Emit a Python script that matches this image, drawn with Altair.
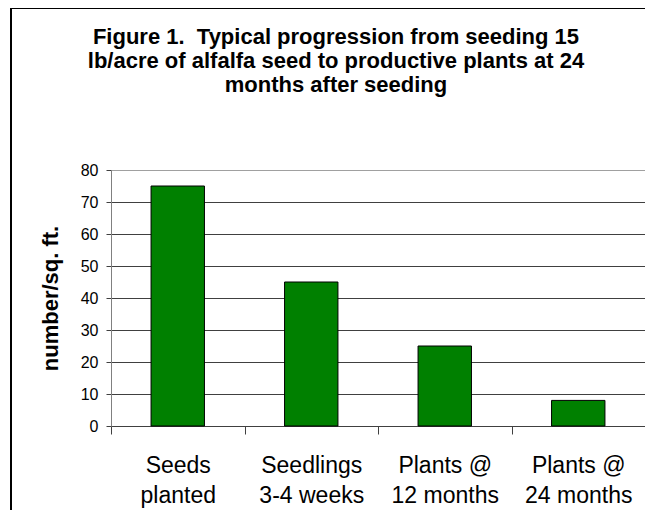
import altair as alt
import pandas as pd

categories = ["Seeds\nplanted", "Seedlings\n3-4 weeks", "Plants @\n12 months", "Plants @\n24 months"]
values = [75, 45, 25, 8]
y_ticks = [0, 10, 20, 30, 40, 50, 60, 70, 80]
title_lines = [
    "Figure 1.\u00a0 Typical progression from seeding 15",
    "lb/acre of alfalfa seed to productive plants at 24",
    "months after seeding",
]

FONT = "Liberation Sans"

df = pd.DataFrame({"stage": categories, "count": values})

bars = alt.Chart(df).mark_bar(
    color="#008000", stroke="#000000", strokeWidth=1, width=alt.RelativeBandSize(0.4)
).encode(
    x=alt.X(
        "stage:N",
        sort=categories,
        scale=alt.Scale(paddingInner=0, paddingOuter=0),
        axis=alt.Axis(
            title=None,
            labelAngle=0,
            labelExpr="split(datum.label, '\\n')",
            labelFont=FONT,
            labelFontSize=23,
            labelLineHeight=30,
            labelPadding=20,
            labelColor="#000000",
            tickBand="extent",
            tickSize=8,
            tickColor="#404040",
            domainColor="#404040",
            grid=False,
        ),
    ),
    y=alt.Y(
        "count:Q",
        scale=alt.Scale(domain=[0, 80], nice=False),
        axis=alt.Axis(
            values=y_ticks,
            title="number/sq. ft.",
            titleFont=FONT,
            titleFontSize=22,
            titleFontWeight="bold",
            titleColor="#000000",
            titleAngle=270,
            titleAlign="center",
            titleBaseline="middle",
            titleX=-61,
            titleY=128,
            labelFont=FONT,
            labelFontSize=16,
            labelColor="#000000",
            labelPadding=8,
            tickSize=5,
            tickColor="#404040",
            domainColor="#808080",
            grid=True,
            gridColor=alt.condition("datum.value === 80", alt.value("#a0a0a0"), alt.value("#404040")),
            gridWidth=1,
        ),
    ),
)

frame = alt.Chart(alt.Data(values=[{"k": 1}])).mark_rect(
    fillOpacity=0, stroke="#000000", strokeWidth=2
).encode(
    x=alt.value(-100), x2=alt.value(620), y=alt.value(-162), y2=alt.value(420)
)

chart = alt.layer(frame, bars).properties(
    width=534,
    height=256,
    padding={"left": 103, "top": 162, "right": 0, "bottom": 84},
    autosize=alt.AutoSizeParams(type="none"),
    title=alt.TitleParams(
        text=title_lines,
        font=FONT,
        fontSize=22,
        fontWeight="bold",
        color="#000000",
        lineHeight=24,
        anchor="middle",
        baseline="bottom",
        dx=-42,
        offset=-112,
    ),
).configure_view(stroke="#a0a0a0", strokeWidth=1).configure(background="#ffffff")

chart.save("out.html", embed_options={"renderer": "svg", "actions": False})
